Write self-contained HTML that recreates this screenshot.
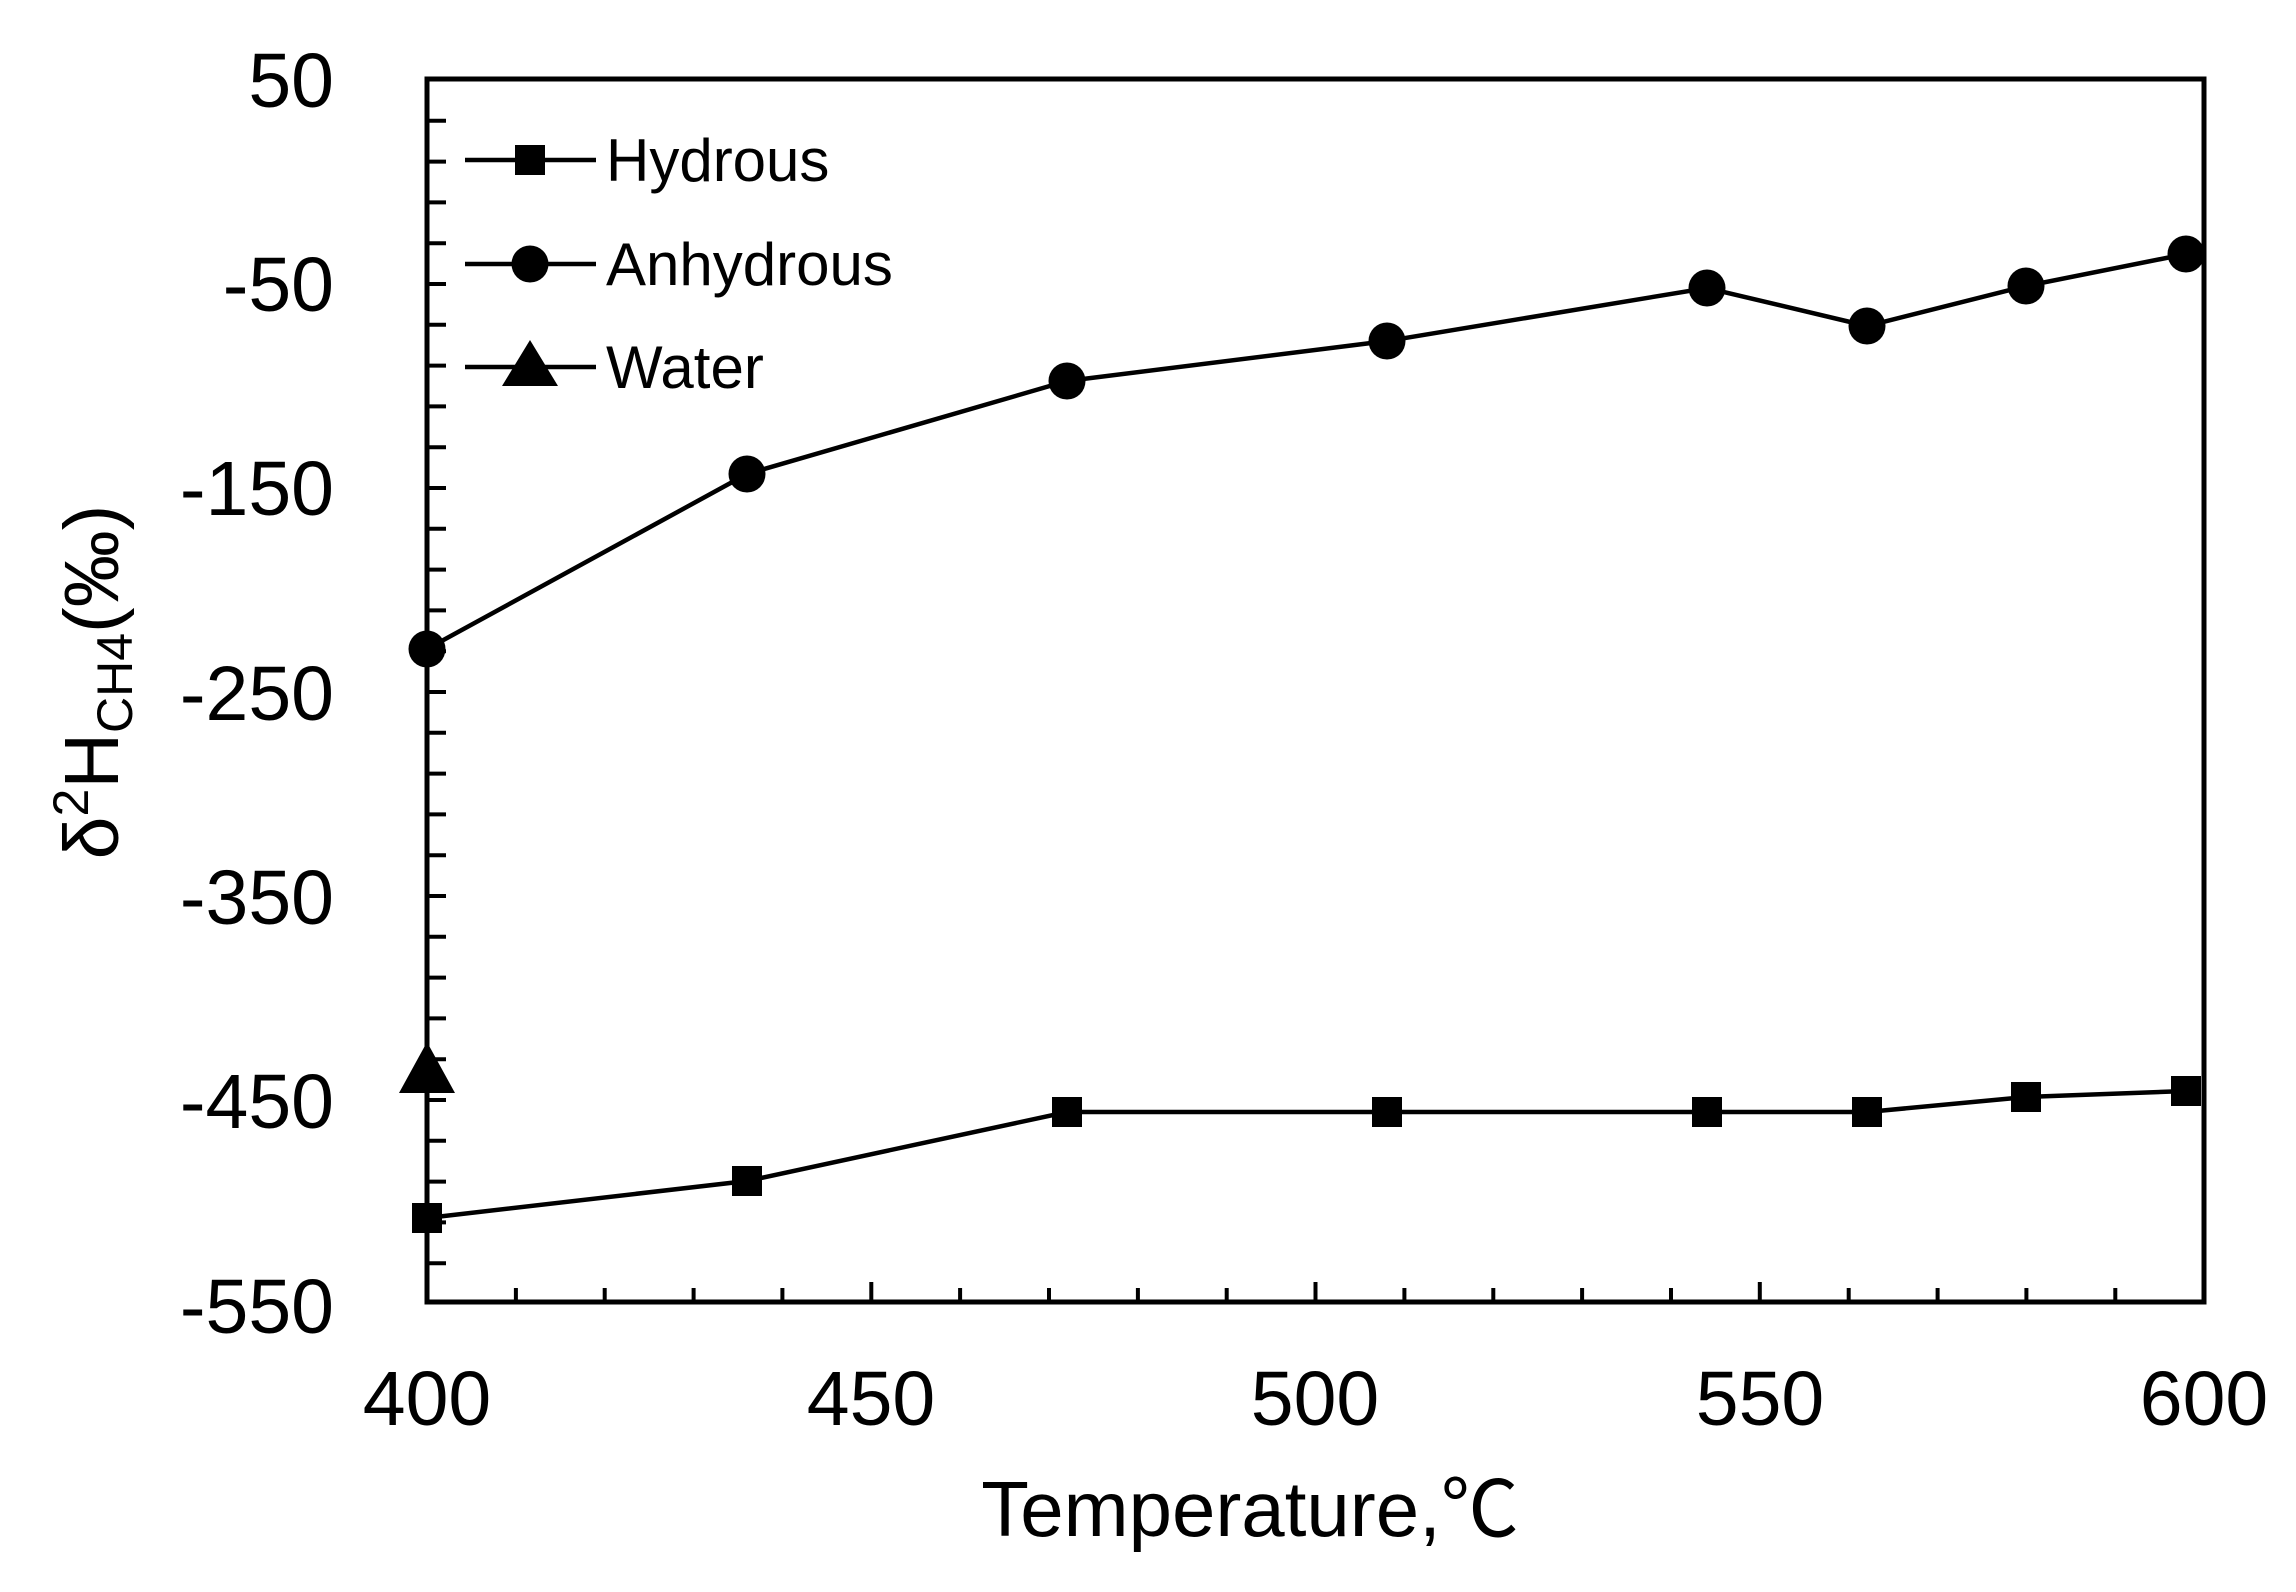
<!DOCTYPE html>
<html><head><meta charset="utf-8"><style>
html,body{margin:0;padding:0;background:#fff;}
svg{display:block;}
text{font-family:"Liberation Sans","Noto Sans CJK SC",sans-serif;fill:#000;}
</style></head><body>
<svg width="2296" height="1592" viewBox="0 0 2296 1592" xmlns="http://www.w3.org/2000/svg">
<g stroke="#000" stroke-width="4" fill="none">
<!-- y minor ticks every 20 -->
<path d="M427 120.8h19M427 161.6h19M427 202.4h19M427 243.2h19M427 284h19M427 324.8h19M427 365.6h19M427 406.4h19M427 447.2h19M427 488h19M427 528.8h19M427 569.6h19M427 610.4h19M427 651.2h19M427 692h19M427 732.8h19M427 773.6h19M427 814.4h19M427 855.2h19M427 896h19M427 936.8h19M427 977.6h19M427 1018.4h19M427 1059.2h19M427 1100h19M427 1140.8h19M427 1181.6h19M427 1222.4h19M427 1263.2h19"/>
<!-- x ticks -->
<path d="M515.9 1302v-14M604.7 1302v-14M693.6 1302v-14M782.4 1302v-14M960.1 1302v-14M1049 1302v-14M1137.9 1302v-14M1226.7 1302v-14M1404.4 1302v-14M1493.3 1302v-14M1582.1 1302v-14M1671 1302v-14M1848.7 1302v-14M1937.6 1302v-14M2026.4 1302v-14M2115.3 1302v-14"/>
<path d="M871.3 1302v-20M1315.5 1302v-20M1759.8 1302v-20"/>
</g>
<rect x="427" y="79" width="1777" height="1223" fill="none" stroke="#000" stroke-width="5"/>
<!-- y labels -->
<g font-size="77" text-anchor="end">
<text x="334" y="107">50</text>
<text x="334" y="311">-50</text>
<text x="334" y="515">-150</text>
<text x="334" y="720">-250</text>
<text x="334" y="924">-350</text>
<text x="334" y="1128">-450</text>
<text x="334" y="1333">-550</text>
</g>
<g font-size="77" text-anchor="middle">
<text x="427" y="1425">400</text>
<text x="871" y="1425">450</text>
<text x="1315" y="1425">500</text>
<text x="1760" y="1425">550</text>
<text x="2204" y="1425">600</text>
</g>
<text x="1250" y="1536" font-size="78" text-anchor="middle">Temperature,℃</text>
<text transform="translate(118,682) rotate(-90)" font-size="77" text-anchor="middle">δ<tspan font-size="50" dy="-30">2</tspan><tspan dy="30">H</tspan><tspan font-size="50" dy="14">CH4</tspan><tspan dy="-14">(‰)</tspan></text>
<!-- series -->
<g stroke="#000" stroke-width="4.5" fill="none">
<polyline points="427,649 747,474 1067,381 1387,341 1707,288 1867,326 2026,286 2186,254"/>
<polyline points="427,1218 747,1181 1067,1112 1387,1112 1707,1112 1867,1112 2026,1097 2186,1091"/>
</g>
<g fill="#000">
<circle cx="427" cy="649" r="18.5"/><circle cx="747" cy="474" r="18.5"/><circle cx="1067" cy="381" r="18.5"/><circle cx="1387" cy="341" r="18.5"/><circle cx="1707" cy="288" r="18.5"/><circle cx="1867" cy="326" r="18.5"/><circle cx="2026" cy="286" r="18.5"/><circle cx="2186" cy="254" r="18.5"/>
<rect x="412" y="1203" width="30" height="30"/><rect x="732" y="1166" width="30" height="30"/><rect x="1052" y="1097" width="30" height="30"/><rect x="1372" y="1097" width="30" height="30"/><rect x="1692" y="1097" width="30" height="30"/><rect x="1852" y="1097" width="30" height="30"/><rect x="2011" y="1082" width="30" height="30"/><rect x="2171" y="1076" width="30" height="30"/>
<polygon points="427,1042 399,1093 455,1093"/>
</g>
<!-- legend -->
<g stroke="#000" stroke-width="4.5">
<line x1="465" y1="160" x2="596" y2="160"/>
<line x1="465" y1="264" x2="596" y2="264"/>
<line x1="465" y1="367" x2="596" y2="367"/>
</g>
<g fill="#000">
<rect x="515" y="145" width="30" height="30"/>
<circle cx="530" cy="264" r="18.5"/>
<polygon points="530,340 502,386 558,386"/>
</g>
<g font-size="60">
<text x="606" y="181">Hydrous</text>
<text x="606" y="285">Anhydrous</text>
<text x="606" y="388">Water</text>
</g>
</svg>
</body></html>
